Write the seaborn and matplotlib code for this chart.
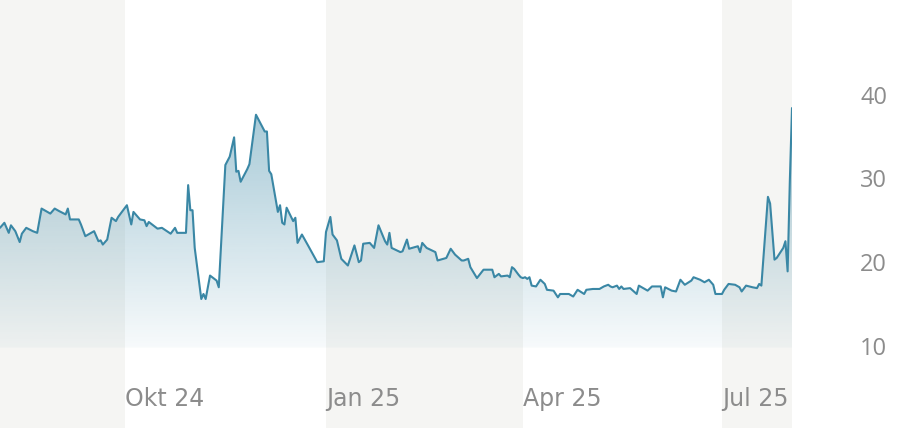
import numpy as np
import pandas as pd
import matplotlib.pyplot as plt
import matplotlib.colors as mcolors
import matplotlib.dates as mdates
from matplotlib.patches import Polygon
import seaborn as sns

# Kursdaten (Tage relativ zum 01.10.2024, Schlusskurs)
start = pd.Timestamp('2024-10-01')
tage = [-57, -55, -53, -52, -50, -48, -47, -45, -42, -40, -38, -34, -32, -30, -27, -26, -25, -21, -20, -18,
        -14, -12, -11, -10, -8, -6, -4, -3, 1, 3, 4, 7, 9, 10, 11, 15, 17, 21, 23, 24,
        28, 29, 30, 31, 32, 35, 36, 37, 39, 42, 43, 46, 48, 50, 51, 52, 53, 56, 57, 60,
        64, 65, 66, 67, 70, 71, 72, 73, 74, 77, 78, 79, 81, 84, 88, 91, 92, 94, 95, 97,
        99, 102, 105, 107, 108, 109, 112, 114, 116, 119, 120, 121, 122, 126, 127, 129, 130, 134, 135, 136,
        138, 142, 143, 147, 149, 151, 154, 155, 157, 158, 161, 164, 168, 169, 171, 172, 175, 176, 177, 178,
        180, 181, 182, 183, 184, 185, 186, 188, 190, 192, 193, 196, 198, 199, 203, 205, 207, 210, 211, 214,
        217, 219, 221, 222, 223, 225, 226, 227, 228, 231, 234, 235, 239, 241, 245, 246, 247, 250, 252, 254,
        256, 259, 260, 263, 265, 267, 269, 270, 273, 274, 276, 279, 281, 282, 284, 287, 289, 290, 291, 294,
        295, 297, 298, 301, 302, 303, 304, 305]
kurs = [24.1, 24.7, 23.5, 24.4, 23.7, 22.4, 23.4, 24.1, 23.7, 23.5, 26.4, 25.8, 26.4, 26.1, 25.7, 26.4, 25.1, 25.1, 24.5, 23.1,
        23.7, 22.5, 22.6, 22.1, 22.7, 25.3, 24.9, 25.4, 26.8, 24.5, 26.0, 25.1, 25.0, 24.3, 24.8, 24.0, 24.1, 23.4, 24.1, 23.5,
        23.5, 29.2, 26.2, 26.2, 21.7, 15.6, 16.2, 15.6, 18.4, 17.8, 17.0, 31.6, 32.6, 34.9, 30.8, 30.9, 29.6, 31.1, 31.7, 37.6,
        35.6, 35.6, 30.9, 30.5, 26.0, 26.8, 24.7, 24.5, 26.5, 24.9, 25.3, 22.3, 23.3, 21.9, 20.0, 20.1, 23.6, 25.4, 23.3, 22.6,
        20.4, 19.6, 22.0, 20.0, 20.2, 22.2, 22.3, 21.7, 24.4, 22.5, 22.1, 23.5, 21.7, 21.2, 21.3, 22.7, 21.6, 21.9, 21.2, 22.3,
        21.7, 21.2, 20.2, 20.5, 21.6, 20.9, 20.2, 20.2, 20.4, 19.4, 18.1, 19.1, 19.1, 18.2, 18.6, 18.3, 18.4, 18.2, 19.4, 19.2,
        18.5, 18.2, 18.1, 18.2, 18.0, 18.2, 17.2, 17.1, 17.9, 17.4, 16.7, 16.6, 15.8, 16.2, 16.2, 15.9, 16.7, 16.2, 16.7, 16.8,
        16.8, 17.1, 17.3, 17.1, 17.0, 17.2, 16.8, 17.1, 16.8, 16.9, 16.2, 17.2, 16.6, 17.1, 17.1, 15.8, 17.0, 16.6, 16.5, 17.9,
        17.3, 17.8, 18.2, 17.9, 17.6, 17.9, 17.3, 16.2, 16.2, 16.7, 17.4, 17.3, 17.0, 16.5, 17.2, 17.0, 16.9, 17.4, 17.2, 27.8,
        27.0, 20.3, 20.5, 21.7, 22.5, 18.9, 29.6, 38.4]

quartale = ['2024-10-01', '2025-01-01', '2025-04-01', '2025-07-01']
quartal_labels = ['Okt 24', 'Jan 25', 'Apr 25', 'Jul 25']
y_ticks = [10, 20, 30, 40]

df = pd.DataFrame({'Datum': start + pd.to_timedelta(tage, unit='D'), 'Kurs': kurs})

linien_farbe = '#3a87a5'
band_farbe = '#f5f5f3'
text_farbe = '#8c8c8c'
basis = 9.8

sns.set_style('white')
fig = plt.figure(figsize=(9.02, 4.28), dpi=100)
ax = fig.add_axes([0, 0, 792 / 902, 1])

sns.lineplot(data=df, x='Datum', y='Kurs', ax=ax, color=linien_farbe, linewidth=1.5, zorder=3)

# Hintergrundbänder pro Quartal
x0, x1 = df['Datum'].min(), df['Datum'].max()
grenzen = [x0] + list(pd.to_datetime(quartale)) + [x1]
for i in range(len(grenzen) - 1):
    if i % 2 == 0:
        ax.axvspan(grenzen[i], grenzen[i + 1], color=band_farbe, lw=0, zorder=0)

# Verlaufsfläche unter der Linie
xn = mdates.date2num(df['Datum'])
oben = max(kurs)
grad = np.zeros((256, 1, 4))
grad[..., :3] = mcolors.to_rgb(linien_farbe)
grad[..., 3] = np.linspace(0.45, 0.04, 256)[:, None]
im = ax.imshow(grad, aspect='auto', extent=[xn[0], xn[-1], basis, oben], origin='upper', zorder=1)
verts = np.column_stack([np.r_[xn[0], xn, xn[-1]], np.r_[basis, kurs, basis]])
poly = Polygon(verts, closed=True, facecolor='none', edgecolor='none')
ax.add_patch(poly)
im.set_clip_path(poly)

ax.set_xlim(x0, x1)
ax.set_ylim(0.2, 51.3)

# Achsen
ax.set_xticks([])
for d, lab in zip(pd.to_datetime(quartale), quartal_labels):
    ax.text(d, 0.068, lab, transform=ax.get_xaxis_transform(), ha='left', va='center',
            fontsize=17, color=text_farbe, family=['Liberation Sans Narrow', 'DejaVu Sans'])

ax.yaxis.tick_right()
ax.set_yticks(y_ticks)
ax.tick_params(axis='y', length=0, pad=49, labelsize=17, labelcolor=text_farbe)
for t in ax.get_yticklabels():
    t.set_family(['Open Sans', 'DejaVu Sans'])
ax.set_xlabel('')
ax.set_ylabel('')
sns.despine(ax=ax, left=True, bottom=True, right=True, top=True)

fig.savefig('out.png', dpi=100)
